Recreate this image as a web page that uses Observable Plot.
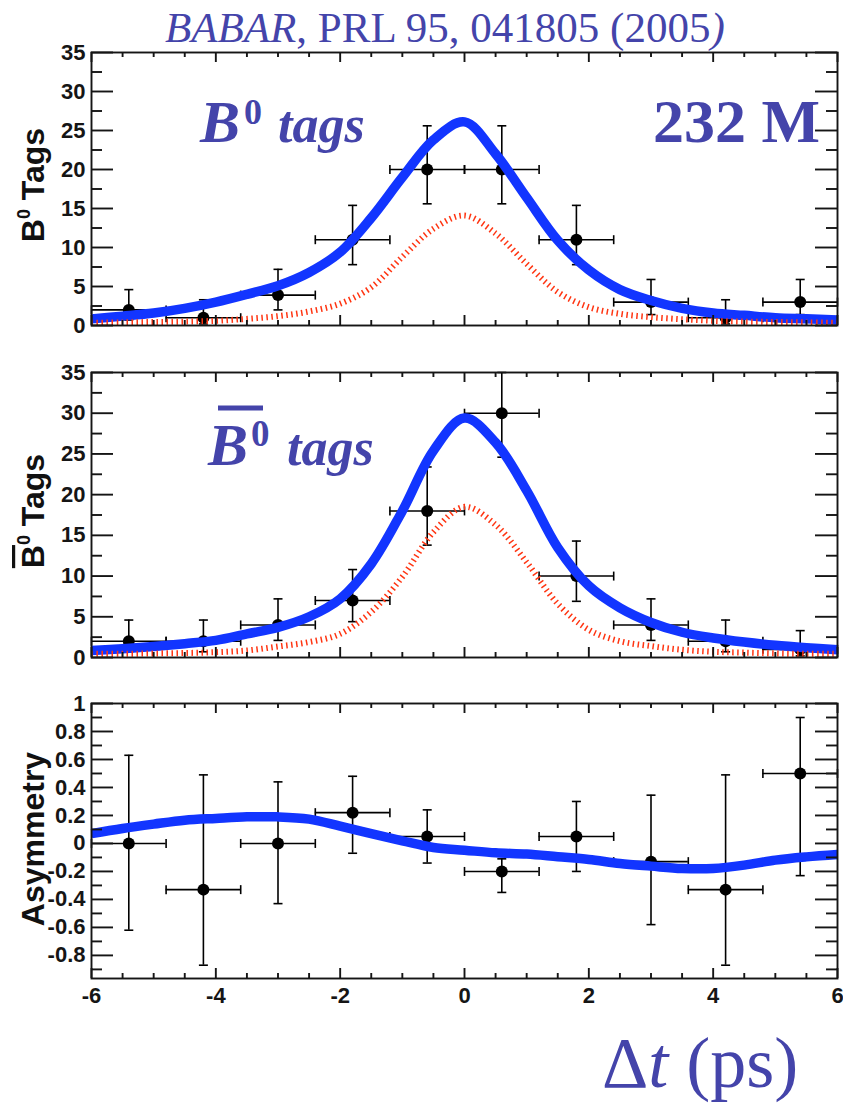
<!DOCTYPE html>
<html><head><meta charset="utf-8">
<script src="https://cdn.jsdelivr.net/npm/d3@7"></script>
<script src="https://cdn.jsdelivr.net/npm/@observablehq/plot@0.6"></script>
<style>
body{margin:0;background:#fff;}
#wrap{position:relative;width:843px;height:1104px;overflow:hidden;background:#fff;}
#wrap > svg{position:absolute;left:0;}
</style></head><body><div id="wrap"></div>
<script>
// ---------- data ----------
const binCenters = [-5.4, -4.2, -3.0, -1.8, -0.6, 0.6, 1.8, 3.0, 4.2, 5.4];
const binHalfWidth = 0.6;

const b0Counts = [2, 1, 3.9, 11, 20, 20, 11, 3, 1, 3];
const b0Low    = [0.7, 0.2, 2.0, 7.8, 15.6, 15.6, 7.8, 1.4, 0.2, 1.4];
const b0High   = [4.6, 3.3, 7.2, 15.4, 25.6, 25.6, 15.4, 5.9, 3.3, 5.9];

const b0barCounts = [2, 2, 4, 7, 18, 30, 10, 4, 2, 1];
const b0barLow    = [0.7, 0.7, 2.1, 4.4, 13.8, 24.6, 6.9, 2.1, 0.7, 0.2];
const b0barHigh   = [4.6, 4.6, 7.2, 10.8, 23.4, 36.5, 14.3, 7.2, 4.6, 3.3];

const asymValues = [0, -0.33, 0, 0.22, 0.05, -0.2, 0.05, -0.13, -0.33, 0.5];
const asymLow    = [-0.62, -0.87, -0.43, -0.07, -0.14, -0.35, -0.2, -0.58, -0.87, -0.23];
const asymHigh   = [0.63, 0.49, 0.44, 0.48, 0.24, -0.11, 0.30, 0.345, 0.49, 0.90];

const fitX = [-6, -5.5, -5, -4.5, -4, -3.5, -3, -2.5, -2, -1.5, -1, -0.5, 0, 0.5, 1, 1.5, 2, 2.5, 3, 3.5, 4, 4.5, 5, 5.5, 6];
const b0Fit     = [0.85, 1.2, 1.6, 2.2, 3.0, 4.0, 5.1, 6.8, 9.4, 13.8, 19.0, 23.8, 26.1, 22.0, 16.4, 10.9, 7.1, 4.6, 3.2, 2.2, 1.6, 1.3, 1.0, 0.85, 0.7];
const b0Signal  = [0.35, 0.4, 0.45, 0.5, 0.6, 0.85, 1.2, 1.8, 2.8, 4.9, 8.8, 12.4, 14.1, 11.8, 7.9, 4.3, 2.35, 1.5, 1.07, 0.8, 0.6, 0.5, 0.45, 0.4, 0.35];
const b0barFit    = [0.86, 1.07, 1.35, 1.7, 2.1, 2.9, 3.7, 5.0, 7.2, 11.5, 18.0, 25.4, 29.4, 26.4, 20.5, 13.5, 8.8, 6.1, 4.3, 3.1, 2.4, 1.9, 1.5, 1.2, 0.95];
const b0barSignal = [0.45, 0.45, 0.5, 0.55, 0.65, 0.86, 1.35, 1.9, 2.9, 5.6, 9.9, 15.4, 18.5, 16.3, 11.7, 6.6, 3.4, 2.0, 1.4, 0.95, 0.7, 0.6, 0.5, 0.45, 0.45];
const asymFit = [0.07, 0.107, 0.138, 0.166, 0.179, 0.19, 0.19, 0.174, 0.124, 0.07, 0.019, -0.029, -0.048, -0.067, -0.076, -0.095, -0.114, -0.143, -0.162, -0.179, -0.179, -0.155, -0.119, -0.096, -0.079];

const xMajor = [-6, -4, -2, 0, 2, 4, 6];
const xMinor = [-5.5, -5, -4.5, -3.5, -3, -2.5, -1.5, -1, -0.5, 0.5, 1, 1.5, 2.5, 3, 3.5, 4.5, 5, 5.5];
const countMajor = [0, 5, 10, 15, 20, 25, 30, 35];
const countMinor = [2.5, 7.5, 12.5, 17.5, 22.5, 27.5, 32.5];
const asymMajor = [-0.8, -0.6, -0.4, -0.2, 0, 0.2, 0.4, 0.6, 0.8, 1];
const asymMinor = [-0.9, -0.7, -0.5, -0.3, -0.1, 0.1, 0.3, 0.5, 0.7, 0.9];

// ---------- style ----------
const BLUE = "#1235ff";
const RED = "#ff3512";
const INK = "#4444aa";
const AXIS = "#151515";

const common = {
  width: 843,
  marginLeft: 91,
  marginRight: 6,
  x: {domain: [-6, 6]},
  style: {fontFamily: '"Liberation Sans", Arial, sans-serif', fontSize: "22px", fontWeight: "bold", color: AXIS, background: "transparent", overflow: "visible"}
};
const FW = common.width - common.marginLeft - common.marginRight;

const hCap = {draw(ctx, size) { const r = Math.sqrt(size / Math.PI); ctx.moveTo(-r, 0); ctx.lineTo(r, 0); }};
const vCap = {draw(ctx, size) { const r = Math.sqrt(size / Math.PI); ctx.moveTo(0, -r); ctx.lineTo(0, r); }};

function frameMarks(yMajor, yMinor, FH, withXLabels, fmtY) {
  const s = {stroke: AXIS, strokeWidth: 1.9};
  const id = d => d;
  const marks = [
    Plot.tickY(yMajor, {y: id, insetRight: FW - 22, ...s}),
    Plot.tickY(yMinor, {y: id, insetRight: FW - 11, ...s}),
    Plot.tickY(yMajor, {y: id, insetLeft: FW - 22, ...s}),
    Plot.tickY(yMinor, {y: id, insetLeft: FW - 11, ...s}),
    Plot.tickX(xMajor, {x: id, insetBottom: FH - 10, ...s}),
    Plot.tickX(xMinor, {x: id, insetBottom: FH - 5, ...s}),
    Plot.tickX(xMajor, {x: id, insetTop: FH - 10, ...s}),
    Plot.tickX(xMinor, {x: id, insetTop: FH - 5, ...s}),
    Plot.axisY(yMajor, {anchor: "left", tickSize: 0, tickPadding: 6, label: null, tickFormat: fmtY, fill: AXIS}),
    Plot.frame({stroke: AXIS, strokeWidth: 1.9})
  ];
  if (withXLabels) marks.push(Plot.axisX(xMajor, {anchor: "bottom", tickSize: 0, tickPadding: 9, label: null, tickFormat: d => String(d), fill: AXIS}));
  else marks.push(Plot.axisX([], {label: null, tickSize: 0}));
  return marks;
}

function dataMarks(vals, lo, hi) {
  const rows = binCenters.map((x, i) => ({x, y: vals[i], lo: lo[i], hi: hi[i]}));
  const s = {stroke: "#000", strokeWidth: 1.6};
  return [
    Plot.ruleX(rows, {x: "x", y1: "lo", y2: "hi", ...s}),
    Plot.ruleY(rows, {y: "y", x1: d => d.x - binHalfWidth, x2: d => d.x + binHalfWidth, ...s}),
    Plot.dot(rows, {x: "x", y: "lo", symbol: hCap, r: 4.5, fill: "none", ...s}),
    Plot.dot(rows, {x: "x", y: "hi", symbol: hCap, r: 4.5, fill: "none", ...s}),
    Plot.dot(rows, {x: d => d.x - binHalfWidth, y: "y", symbol: vCap, r: 4.5, fill: "none", ...s}),
    Plot.dot(rows, {x: d => d.x + binHalfWidth, y: "y", symbol: vCap, r: 4.5, fill: "none", ...s}),
    Plot.dot(rows, {x: "x", y: "y", r: 6, fill: "#000", stroke: "none"})
  ];
}

function curveMarks(fit, signal) {
  const f = fitX.map((x, i) => ({x, y: fit[i]}));
  const marks = [Plot.line(f, {x: "x", y: "y", stroke: BLUE, strokeWidth: 9.5, curve: "catmull-rom", strokeLinecap: "butt"})];
  if (signal) {
    const s = fitX.map((x, i) => ({x, y: signal[i]}));
    marks.push(Plot.line(s, {x: "x", y: "y", stroke: RED, strokeWidth: 6, strokeDasharray: "1.5 3.5", curve: "catmull-rom", strokeLinecap: "butt"}));
  }
  return marks;
}

const wrap = document.getElementById("wrap");

const h1 = 340, mt1 = 52, mb1 = 15;
const p1 = Plot.plot({
  ...common, height: h1, marginTop: mt1, marginBottom: mb1,
  y: {domain: [0, 35], clamp: true},
  marks: [...dataMarks(b0Counts, b0Low, b0High), ...curveMarks(b0Fit, b0Signal), ...frameMarks(countMajor, countMinor, h1 - mt1 - mb1, false, d => String(d))]
});
p1.style.top = "0px";

const h2 = 330, mt2 = 32, mb2 = 13;
const p2 = Plot.plot({
  ...common, height: h2, marginTop: mt2, marginBottom: mb2,
  y: {domain: [0, 35], clamp: true},
  marks: [...dataMarks(b0barCounts, b0barLow, b0barHigh), ...curveMarks(b0barFit, b0barSignal), ...frameMarks(countMajor, countMinor, h2 - mt2 - mb2, false, d => String(d))]
});
p2.style.top = "340px";

const h3 = 434, mt3 = 33, mb3 = 126;
const p3 = Plot.plot({
  ...common, height: h3, marginTop: mt3, marginBottom: mb3,
  y: {domain: [-0.965, 1], clamp: true},
  marks: [...dataMarks(asymValues, asymLow, asymHigh), ...curveMarks(asymFit, null), ...frameMarks(asymMajor, asymMinor, h3 - mt3 - mb3, true, d => String(d))]
});
p3.style.top = "670px";

wrap.append(p1, p2, p3);

// ---------- annotations ----------
const ov = d3.create("svg").attr("width", 843).attr("height", 1104).style("top", "0px").style("pointer-events", "none");
const serif = '"Liberation Serif", "Times New Roman", serif';
const sans = '"Liberation Sans", Arial, sans-serif';

const title = ov.append("text").attr("x", 165).attr("y", 42).attr("font-family", serif).attr("font-size", 43).attr("fill", INK);
title.append("tspan").attr("font-style", "italic").text("BABAR");
title.append("tspan").text(", PRL 95, 041805 (2005");
title.append("tspan").attr("font-style", "italic").text(")");

// B0 tags
ov.append("text").attr("x", 200).attr("y", 142).attr("font-family", serif).attr("font-size", 60).attr("font-weight", "bold").attr("font-style", "italic").attr("fill", INK).text("B");
ov.append("text").attr("x", 244).attr("y", 124).attr("font-family", serif).attr("font-size", 36).attr("font-weight", "bold").attr("fill", INK).text("0");
ov.append("text").attr("x", 278).attr("y", 142).attr("font-family", serif).attr("font-size", 52).attr("font-weight", "bold").attr("font-style", "italic").attr("fill", INK).text("tags");
ov.append("text").attr("x", 653).attr("y", 142).attr("font-family", serif).attr("font-size", 62).attr("font-weight", "bold").attr("fill", INK).text("232 M");

// B0bar tags
ov.append("text").attr("x", 208).attr("y", 465).attr("font-family", serif).attr("font-size", 60).attr("font-weight", "bold").attr("font-style", "italic").attr("fill", INK).text("B");
ov.append("line").attr("x1", 218).attr("x2", 263).attr("y1", 408).attr("y2", 408).attr("stroke", INK).attr("stroke-width", 5);
ov.append("text").attr("x", 251).attr("y", 446).attr("font-family", serif).attr("font-size", 37).attr("font-weight", "bold").attr("fill", INK).text("0");
ov.append("text").attr("x", 287).attr("y", 465).attr("font-family", serif).attr("font-size", 52).attr("font-weight", "bold").attr("font-style", "italic").attr("fill", INK).text("tags");

// Delta t (ps)
const dt = ov.append("text").attr("x", 602).attr("y", 1087).attr("font-family", serif).attr("font-size", 72).attr("fill", INK);
dt.append("tspan").text("\u0394");
dt.append("tspan").attr("font-style", "italic").text("t");
dt.append("tspan").text(" (ps)");

// y-axis titles
function yTitle(cx, cy, overline, word, sup) {
  const t = ov.append("text").attr("transform", `translate(${cx},${cy}) rotate(-90)`).attr("text-anchor", "middle")
    .attr("font-family", sans).attr("font-size", 32).attr("font-weight", "bold").attr("fill", "#111");
  if (sup) {
    const b = t.append("tspan").text("B");
    if (overline) b.style("text-decoration", "overline");
    t.append("tspan").attr("font-size", 18).attr("dy", -14).text("0");
    t.append("tspan").attr("dy", 14).text(" " + word);
  } else {
    t.text(word);
  }
}
yTitle(44, 185, false, "Tags", true);
yTitle(44, 511, true, "Tags", true);
yTitle(44, 839, false, "Asymmetry", false);

wrap.append(ov.node());
</script></body></html>
